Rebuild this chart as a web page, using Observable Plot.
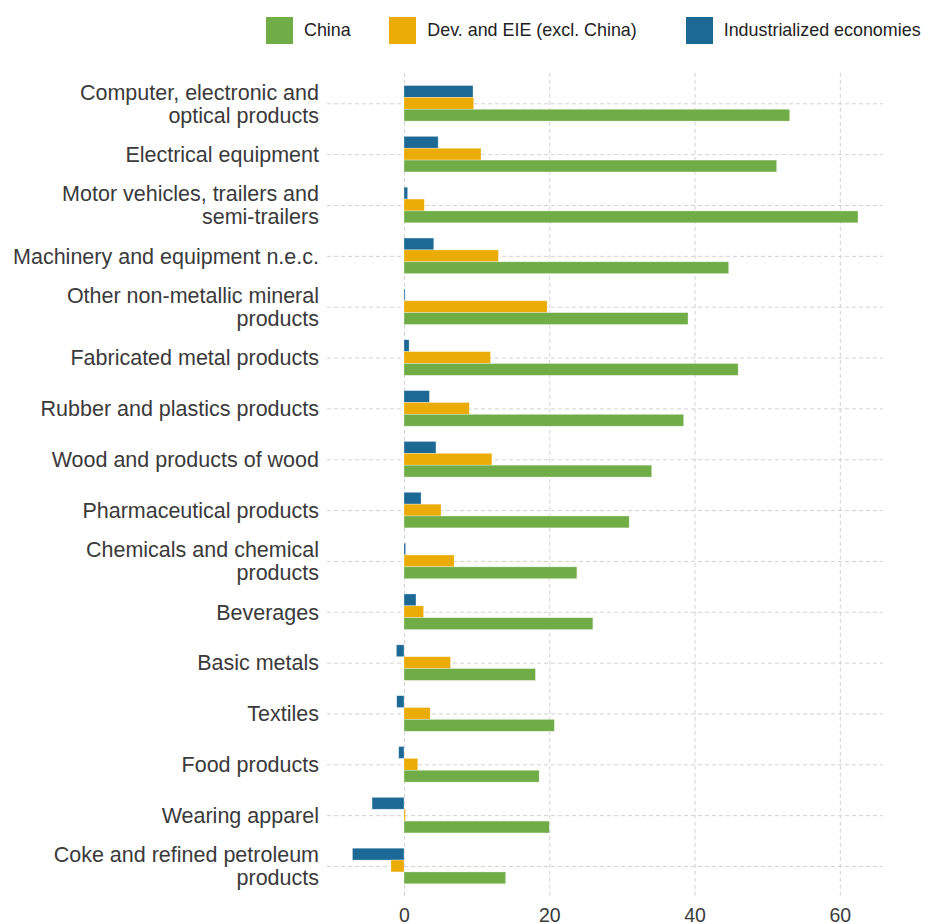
<!DOCTYPE html>
<html>
<head>
<meta charset="utf-8">
<script src="https://cdn.jsdelivr.net/npm/d3@7"></script>
<script src="https://cdn.jsdelivr.net/npm/@observablehq/plot@0.6"></script>
<style>
  html, body { margin: 0; padding: 0; background: #fff; }
  body { width: 930px; font-family: "Liberation Sans", Arial, sans-serif; }
  #legend { position: relative; height: 60px; }
  #chart svg { display: block; }
  .item { position: absolute; top: 16.5px; display: flex; align-items: center; height: 27px; }
  .key { width: 27px; height: 27px; margin-right: 11px; }
  .lab { font-size: 17.9px; color: #222; white-space: nowrap; }
</style>
</head>
<body>
<div id="legend"></div>
<div id="chart"></div>
<script>
const categories = [
  "Computer, electronic and\noptical products",
  "Electrical equipment",
  "Motor vehicles, trailers and\nsemi-trailers",
  "Machinery and equipment n.e.c.",
  "Other non-metallic mineral\nproducts",
  "Fabricated metal products",
  "Rubber and plastics products",
  "Wood and products of wood",
  "Pharmaceutical products",
  "Chemicals and chemical\nproducts",
  "Beverages",
  "Basic metals",
  "Textiles",
  "Food products",
  "Wearing apparel",
  "Coke and refined petroleum\nproducts"
];
const seriesNames = ["China", "Dev. and EIE (excl. China)", "Industrialized economies"];
const seriesColors = ["#70AD47", "#EBAC08", "#1D6996"];
const china = [53.1, 51.3, 62.5, 44.7, 39.1, 46.0, 38.5, 34.1, 31.0, 23.8, 26.0, 18.1, 20.7, 18.6, 20.0, 14.0];
const devEIE = [9.6, 10.6, 2.8, 13.0, 19.7, 11.9, 9.0, 12.1, 5.1, 6.9, 2.7, 6.4, 3.6, 1.9, 0.2, -1.8];
const industrialized = [9.5, 4.7, 0.5, 4.1, 0.15, 0.7, 3.5, 4.4, 2.35, 0.23, 1.65, -1.05, -1.0, -0.73, -4.4, -7.1];
const xTicks = [0, 20, 40, 60];

const seriesValues = [china, devEIE, industrialized];
const rows = [];
seriesNames.forEach((s, si) => {
  categories.forEach((c, ci) => rows.push({category: c, series: s, value: seriesValues[si][ci]}));
});

// Legend
const legendLefts = [266, 389.3, 685.7];
const legend = document.getElementById("legend");
seriesNames.forEach((s, i) => {
  const it = document.createElement("div");
  it.className = "item";
  it.style.left = legendLefts[i] + "px";
  it.innerHTML = `<div class="key" style="background:${seriesColors[i]}"></div><div class="lab">${s}</div>`;
  legend.appendChild(it);
});

// Geometry
const svgHeight = 864, marginTop = 12.8, marginBottom = 27.5;
const paddingInner = 1 - 0.7 / 3;
const paddingOuter = 0.6 - (1 - paddingInner) / 2;
const step = (svgHeight - marginTop - marginBottom) / (categories.length - paddingInner + 2 * paddingOuter);
const bw = step * (1 - paddingInner);

const gridStyle = {stroke: "#d2d2d2", strokeOpacity: 1, strokeWidth: 1, strokeDasharray: "4,3"};
const barStyle = {x: "value", y: "category", fill: "series", stroke: "white", strokeWidth: 0.6, strokeOpacity: 0.5};

const chart = Plot.plot({
  width: 930,
  height: svgHeight,
  marginTop, marginBottom,
  marginLeft: 327,
  marginRight: 47.3,
  style: {fontFamily: "'Liberation Sans', Arial, sans-serif", background: "white", overflow: "visible"},
  x: {domain: [-10.6, 65.9], axis: null, label: null},
  y: {domain: categories, paddingInner, paddingOuter, align: 0.5, round: false, axis: null, label: null},
  color: {domain: seriesNames, range: seriesColors},
  marks: [
    Plot.gridX(xTicks, gridStyle),
    Plot.gridY(categories, gridStyle),
    Plot.barX(rows.filter(d => d.series === seriesNames[2]), {...barStyle, dy: -bw}),
    Plot.barX(rows.filter(d => d.series === seriesNames[1]), {...barStyle, dy: 0}),
    Plot.barX(rows.filter(d => d.series === seriesNames[0]), {...barStyle, dy: bw}),
    Plot.axisX(xTicks, {tickSize: 0, tickPadding: 11, fontSize: 19.5, fill: "#3a3a3a", label: null}),
    Plot.axisY(categories, {tickSize: 0, tickPadding: 8.5, fontSize: 21.5, lineHeight: 1.06, fill: "#3a3a3a", label: null})
  ]
});
document.getElementById("chart").appendChild(chart);
</script>
</body>
</html>
